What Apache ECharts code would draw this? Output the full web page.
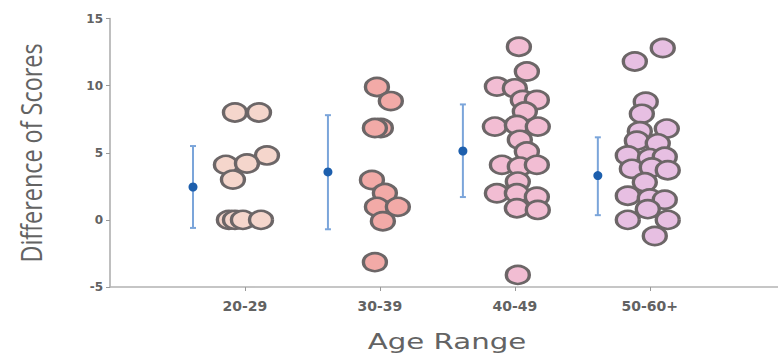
<!DOCTYPE html>
<html><head><meta charset="utf-8">
<script src="https://cdn.jsdelivr.net/npm/echarts@6/dist/echarts.min.js"></script>
<style>html,body{margin:0;padding:0;background:#fff}#c{width:778px;height:358px}</style>
</head><body><div id="c"></div>
<script>
// ---- data ----
const categories = ['20-29', '30-39', '40-49', '50-60+'];
const yTicks = [-5, 0, 5, 10, 15];

// individual scores per age range, with beeswarm offsets (category units)
const g1Values  = [8, 8, 4.8, 4.1, 4.2, 3, 0, 0, 0, 0];
const g1Offsets = [-0.074, 0.104, 0.163, -0.141, 0.015, -0.089, -0.119, -0.074, -0.015, 0.119];

const g2Values  = [9.9, 8.85, 6.84, 6.84, 2.97, 2.0, 0.97, 0.97, -0.1, -3.15];
const g2Offsets = [-0.022, 0.081, 0.007, -0.037, -0.059, 0.037, -0.022, 0.133, 0.022, -0.037];

const g3Values  = [12.9, 11.05, 9.93, 9.8, 8.93, 8.93, 8.07, 6.95, 7.07, 6.95, 5.96, 5.09, 4.1, 3.97, 4.1, 2.85, 1.98, 1.98, 1.73, 0.87, 0.74, -4.1];
const g3Offsets = [0.030, 0.089, -0.133, 0, 0.059, 0.163, 0.074, -0.148, 0.015, 0.170, 0.037, 0.089, -0.096, 0.037, 0.163, 0.022, -0.133, 0.015, 0.163, 0.015, 0.170, 0.022];

const g4Values  = [12.8, 11.8, 8.8, 7.9, 6.6, 6.8, 5.9, 5.7, 4.8, 4.6, 4.7, 3.8, 3.9, 3.7, 2.8, 1.8, 1.6, 1.5, 0.8, 0, 0, -1.2];
const g4Offsets = [0.096, -0.111, -0.030, -0.059, -0.074, 0.126, -0.096, 0.059, -0.163, 0, 0.111, -0.133, 0.015, 0.133, -0.037, -0.163, 0, 0.111, -0.015, -0.163, 0.133, 0.037];

// mean and interval per age range
const errMean = [2.45, 3.57, 5.13, 3.3];
const errLow  = [-0.6, -0.7, 1.7, 0.35];
const errHigh = [5.5, 7.8, 8.6, 6.15];

// ---- styling / layout ----
const ERR_SHIFT = -0.385;
const fills = ['#f5d6cc', '#f2aaa7', '#f2bdd3', '#e7bfe2'];
const dotBorder = '#6c6667';

const groups = [[g1Values, g1Offsets], [g2Values, g2Offsets], [g3Values, g3Offsets], [g4Values, g4Offsets]];

const scatterSeries = groups.map(function (g, gi) {
  return {
    type: 'scatter',
    symbol: 'circle',
    symbolSize: [23, 18],
    data: g[0].map(function (v, i) { return [gi + 1 + g[1][i], v]; }),
    itemStyle: { color: fills[gi], borderColor: dotBorder, borderWidth: 3, opacity: 1 },
    emphasis: { disabled: true },
    z: 3
  };
});

const errData = errMean.map(function (m, i) { return [i + 1 + ERR_SHIFT, errLow[i], errHigh[i], m]; });

const errSeries = {
  type: 'custom',
  data: errData,
  z: 4,
  renderItem: function (params, api) {
    const x = api.value(0);
    const top = api.coord([x, api.value(2)]);
    const bot = api.coord([x, api.value(1)]);
    const mid = api.coord([x, api.value(3)]);
    const lineStyle = { stroke: '#7ba5da', lineWidth: 2 };
    return {
      type: 'group',
      children: [
        { type: 'line', shape: { x1: top[0], y1: top[1], x2: bot[0], y2: bot[1] }, style: lineStyle },
        { type: 'line', shape: { x1: top[0] - 3, y1: top[1], x2: top[0] + 3, y2: top[1] }, style: lineStyle },
        { type: 'line', shape: { x1: bot[0] - 3, y1: bot[1], x2: bot[0] + 3, y2: bot[1] }, style: lineStyle },
        { type: 'circle', shape: { cx: mid[0], cy: mid[1], r: 4.5 }, style: { fill: '#1d5fad' } }
      ]
    };
  }
};

const chart = echarts.init(document.getElementById('c'), null, { renderer: 'svg' });
chart.setOption({
  animation: false,
  backgroundColor: '#fff',
  grid: { left: 110, right: 0, top: 18.5, bottom: 71, containLabel: false },
  xAxis: {
    type: 'value', min: 0, max: 4.95,
    axisLine: { onZero: false, lineStyle: { color: '#b3b3b3', width: 1.5 } },
    axisTick: { show: true, customValues: [1, 2, 3, 4], length: 4, lineStyle: { color: '#999' } },
    axisLabel: {
      customValues: [1, 2, 3, 4],
      formatter: function (v) { return categories[Math.round(v) - 1] || ''; },
      margin: 12, fontSize: 14, fontWeight: 'bold', fontFamily: 'DejaVu Sans', color: '#626262'
    },
    splitLine: { show: false }
  },
  yAxis: {
    type: 'value', min: yTicks[0], max: yTicks[yTicks.length - 1], interval: 5,
    axisLine: { show: true, onZero: false, lineStyle: { color: '#aaaaaa', width: 1.5 } },
    axisTick: { show: true, length: 4, lineStyle: { color: '#999' } },
    axisLabel: { margin: 7, fontSize: 12, fontWeight: 'bold', fontFamily: 'DejaVu Sans', color: '#626262' },
    splitLine: { show: false }
  },
  graphic: [
    {
      type: 'text', x: 31, y: 153, rotation: Math.PI / 2, scaleX: 1.17, scaleY: 1.45,
      style: { text: 'Difference of Scores', fontSize: 20, fontFamily: 'Open Sans', fill: '#636363', align: 'center', verticalAlign: 'middle' }
    },
    {
      type: 'text', x: 447, y: 341, scaleX: 1.33,
      style: { text: 'Age Range', fontSize: 22, fontFamily: 'DejaVu Sans', fill: '#636363', align: 'center', verticalAlign: 'middle' }
    }
  ],
  series: scatterSeries.concat([errSeries])
});
</script>
</body></html>
